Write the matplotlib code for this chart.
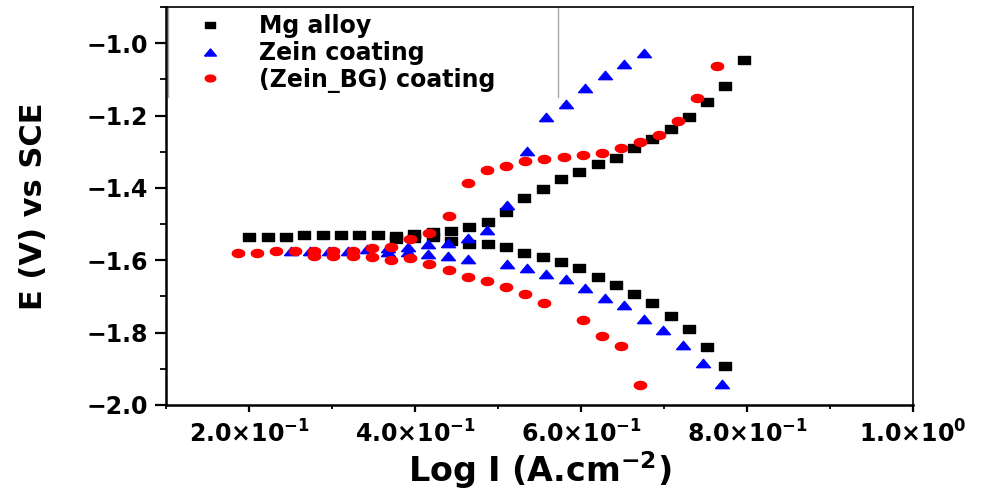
import matplotlib.pyplot as plt
from matplotlib.ticker import AutoMinorLocator

plt.rcParams['font.family'] = ['DejaVu Sans']
plt.rcParams['font.weight'] = 'bold'
plt.rcParams['mathtext.fontset'] = 'dejavusans'
plt.rcParams['mathtext.default'] = 'bf'

# Mg alloy (black squares): horizontal + anodic branch, then cathodic branch
mg_x = [0.200, 0.223, 0.245, 0.266, 0.289, 0.311, 0.333, 0.355, 0.377, 0.399,
        0.422, 0.443, 0.465, 0.488, 0.510, 0.531, 0.554, 0.576, 0.598, 0.621,
        0.642, 0.664, 0.686, 0.708, 0.730, 0.752, 0.774, 0.796,
        0.377, 0.399, 0.422, 0.443, 0.465, 0.488, 0.510, 0.531, 0.554, 0.576,
        0.598, 0.621, 0.642, 0.664, 0.686, 0.708, 0.730, 0.752, 0.774]
mg_y = [-1.537, -1.537, -1.537, -1.531, -1.531, -1.531, -1.531, -1.531, -1.532, -1.528,
        -1.523, -1.520, -1.509, -1.495, -1.467, -1.429, -1.404, -1.376, -1.357, -1.335,
        -1.318, -1.290, -1.265, -1.238, -1.205, -1.163, -1.119, -1.047,
        -1.540, -1.539, -1.537, -1.548, -1.556, -1.556, -1.564, -1.581, -1.592, -1.606,
        -1.622, -1.645, -1.669, -1.694, -1.719, -1.755, -1.791, -1.841, -1.893]

# Zein coating (blue triangles)
zein_x = [0.251, 0.274, 0.296, 0.319, 0.342,
          0.368, 0.392, 0.416, 0.440, 0.464, 0.487, 0.511, 0.535, 0.558, 0.582,
          0.605, 0.629, 0.652, 0.676,
          0.368, 0.392, 0.416, 0.440, 0.464, 0.511, 0.535, 0.558, 0.582, 0.605,
          0.629, 0.652, 0.676, 0.699, 0.723, 0.747, 0.770]
zein_y = [-1.575, -1.575, -1.575, -1.573, -1.570,
          -1.567, -1.562, -1.556, -1.553, -1.539, -1.515, -1.448, -1.299, -1.205, -1.169,
          -1.124, -1.089, -1.058, -1.028,
          -1.578, -1.578, -1.583, -1.589, -1.596, -1.609, -1.620, -1.639, -1.653, -1.676,
          -1.703, -1.725, -1.763, -1.794, -1.835, -1.885, -1.941]

# (Zein_BG) coating (red circles)
bg_x = [0.187, 0.210, 0.233, 0.255, 0.278, 0.301, 0.325, 0.348, 0.371, 0.394,
        0.417, 0.441, 0.464, 0.487, 0.510, 0.533, 0.555, 0.580, 0.602, 0.625,
        0.648, 0.671, 0.694, 0.717, 0.740, 0.764,
        0.278, 0.301, 0.325, 0.348, 0.371, 0.394, 0.417, 0.441, 0.464, 0.487,
        0.510, 0.533, 0.555, 0.602, 0.625, 0.648, 0.671]
bg_y = [-1.581, -1.581, -1.573, -1.575, -1.573, -1.573, -1.573, -1.567, -1.562, -1.542,
        -1.526, -1.479, -1.387, -1.351, -1.340, -1.326, -1.321, -1.315, -1.310, -1.304,
        -1.290, -1.274, -1.254, -1.216, -1.152, -1.064,
        -1.587, -1.587, -1.587, -1.592, -1.598, -1.595, -1.609, -1.628, -1.645, -1.658,
        -1.675, -1.694, -1.719, -1.766, -1.808, -1.838, -1.946]

series_names = ['Mg alloy', 'Zein coating', '(Zein_BG) coating']
xticks = [0.2, 0.4, 0.6, 0.8, 1.0]
xtick_labels = [r'$2.0{\times}10^{-1}$', r'$4.0{\times}10^{-1}$', r'$6.0{\times}10^{-1}$',
                r'$8.0{\times}10^{-1}$', r'$1.0{\times}10^{0}$']
yticks = [-1.0, -1.2, -1.4, -1.6, -1.8, -2.0]
ytick_labels = ['\u22121.0', '\u22121.2', '\u22121.4', '\u22121.6', '\u22121.8', '\u22122.0']

# wide, flat markers (the reference image is stretched sideways)
sq = [(-1, -0.6), (1, -0.6), (1, 0.6), (-1, 0.6), (-1, -0.6)]
tri = [(-1, -0.6), (1, -0.6), (0, 0.6), (-1, -0.6)]
ell = [(1.0 * c, 0.65 * s) for c, s in
       [(1, 0), (0.924, 0.383), (0.707, 0.707), (0.383, 0.924), (0, 1),
        (-0.383, 0.924), (-0.707, 0.707), (-0.924, 0.383), (-1, 0),
        (-0.924, -0.383), (-0.707, -0.707), (-0.383, -0.924), (0, -1),
        (0.383, -0.924), (0.707, -0.707), (0.924, -0.383), (1, 0)]]

fig = plt.figure(figsize=(9.87, 4.93), dpi=100)
ax = fig.add_axes([0.1682, 0.1785, 0.7568, 0.8073])

ax.plot(mg_x, mg_y, ls='none', marker=sq, ms=8.6, color='black', label=series_names[0])
ax.plot(zein_x, zein_y, ls='none', marker=tri, ms=10, color='#0000ff', label=series_names[1])
ax.plot(bg_x, bg_y, ls='none', marker=ell, ms=9, color='#ff0000', label=series_names[2])

ax.set_xlim(0.1, 1.0)
ax.set_ylim(-2.0, -0.9)
ax.set_xticks(xticks)
ax.set_xticklabels(xtick_labels)
ax.set_yticks(yticks)
ax.set_yticklabels(ytick_labels)
ax.xaxis.set_minor_locator(AutoMinorLocator(2))
ax.yaxis.set_minor_locator(AutoMinorLocator(2))

ax.tick_params(axis='x', which='major', direction='out', length=5, width=1.6,
               labelsize=17, pad=6)
ax.tick_params(axis='x', which='minor', direction='out', length=3, width=1.3)
ax.tick_params(axis='y', which='major', direction='out', length=8, width=1.6,
               labelsize=17, pad=5)
ax.tick_params(axis='y', which='minor', direction='out', length=4.5, width=1.3)

for side in ['left', 'bottom']:
    ax.spines[side].set_linewidth(1.8)
for side in ['top', 'right']:
    ax.spines[side].set_linewidth(1.2)

ax.set_ylabel('E (V) vs SCE', fontsize=22, fontweight='bold')
ax.yaxis.set_label_coords(-0.158, 0.5)
ax.set_xlabel(r'Log I (A.cm$^{-2}$)', fontsize=24, fontweight='bold')
ax.xaxis.set_label_coords(0.5, -0.112)

leg = ax.legend(loc='upper left', bbox_to_anchor=(0.0, 1.0), borderaxespad=0,
                frameon=False, fontsize=17, handlelength=3.1, handletextpad=0.55,
                borderpad=0.3, labelspacing=0.12, markerscale=0.85)
# thin gray sides of the legend box
ax.plot([0.003, 0.003], [0.774, 1.0], color='0.65', lw=1, transform=ax.transAxes)
ax.plot([0.525, 0.525], [0.774, 1.0], color='0.65', lw=1, transform=ax.transAxes)

fig.savefig('out.png', dpi=100)
